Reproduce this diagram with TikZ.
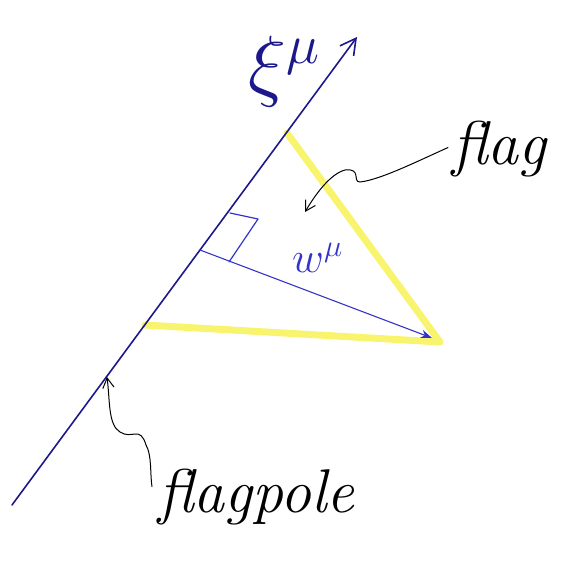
\RequirePackage{fix-cm}
\documentclass[tikz,border=0pt]{standalone}
\usepackage{amsmath,amssymb}
\usepackage{tikz}
\usepackage{xcolor}
\usetikzlibrary{arrows.meta,calc,positioning}
\definecolor{poleblue}{RGB}{28,24,140}
\definecolor{vecblue}{RGB}{52,52,200}
\definecolor{flagyellow}{RGB}{248,244,110}
\tikzset{
  every picture/.append style={line cap=round,line join=round},
  flag pole/.style={poleblue,line width=1.6pt,-{Straight Barb[length=5.5mm,width=6mm,line width=1.6pt]}},
  flag cloth/.style={flagyellow,line width=7pt},
  flag vector/.style={vecblue,line width=1.1pt,-{Stealth[length=4mm,width=3mm]}},
  flag mark/.style={vecblue,line width=1.2pt},
  flag note/.style={font=\fontsize{62}{66}\selectfont\itshape,inner sep=0pt},
  flag pointer/.style={black,line width=1pt,-{Straight Barb[length=3.5mm,width=4mm]}}
}

\begin{document}
\begin{tikzpicture}[x=1bp,y=-1bp]
  \useasboundingbox (0,0) rectangle (573,567);

  % pole and flag
  \coordinate (poleBase) at (12,505);
  \coordinate (poleTop) at (357,37);
  \coordinate (flagTop) at (287,133);
  \coordinate (flagTip) at (440,342);
  \coordinate (flagBot) at (145,325);
  \coordinate (wFoot) at (200,250);
  \coordinate (wTip) at (432,338);

  \draw[flag cloth] (flagTop) -- (flagTip) -- (flagBot);
  \draw[flag pole] (poleBase) -- (poleTop);
  \draw[flag vector] (wFoot) -- (wTip);
  \draw[flag mark] (230,213) -- (258,219) -- (229,262);

  % labels
  \node[poleblue,inner sep=0pt,anchor=base west] (xi) at (248,92)
    {\fontsize{80}{84}\selectfont$\xi^{\mu}$};
  \node[vecblue,inner sep=0pt,anchor=base west] (wLabel) at (292,272)
    {\fontsize{44}{48}\selectfont$w^{\mu}$};
  \node[flag note,anchor=base west] (flagLabel) at (452,165) {flag};
  \node[flag note,anchor=base west] (poleLabel) at (158,512) {flagpole};

  % pointers
  \coordinate (flagPoint) at (305,212);
  \coordinate (polePoint) at (107,377);
  \draw[flag pointer] (flagLabel.west) ++(-4,-2) .. controls (420,160) and (380,180) ..
    (360,182) .. controls (352,182) and (362,168) .. (345,170)
    .. controls (330,174) and (315,195) .. (flagPoint);
  \draw[flag pointer] (poleLabel.west) ++(-6,-10) .. controls (150,475) and (152,455) ..
    (146,445) .. controls (140,425) and (132,440) .. (120,432)
    .. controls (108,425) and (110,400) .. (polePoint);
\end{tikzpicture}
\end{document}
